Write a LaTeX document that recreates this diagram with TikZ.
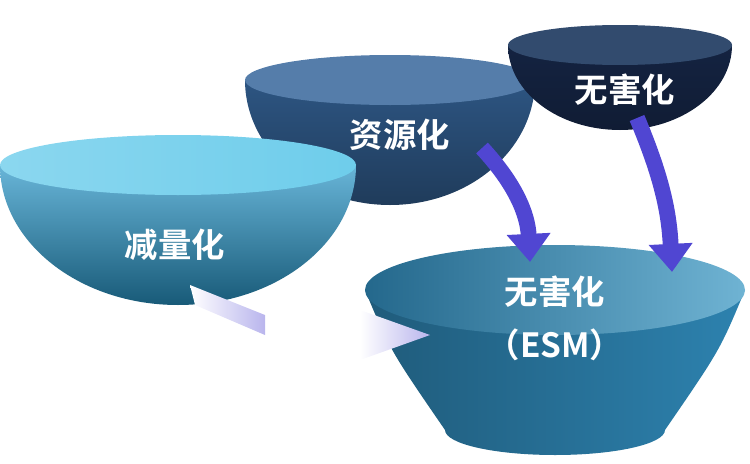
\documentclass[tikz,border=0pt]{standalone}
\usepackage{fontspec}
\newfontfamily\cjk{Noto Sans CJK SC Bold}
\usetikzlibrary{arrows.meta}
\definecolor{bowlA}{RGB}{40,150,200}
\definecolor{bowlAtop}{RGB}{110,205,235}
\definecolor{bowlB}{RGB}{45,85,130}
\definecolor{bowlBtop}{RGB}{85,125,170}
\definecolor{bowlC}{RGB}{20,35,65}
\definecolor{bowlCtop}{RGB}{50,75,110}
\definecolor{esm}{RGB}{45,130,175}
\definecolor{esmtop}{RGB}{75,160,200}
\definecolor{flowcol}{RGB}{80,70,210}
\tikzset{
    label/.style={text=white, font=\cjk\fontsize{19}{22}\selectfont},
    flow/.style={-{Triangle[width=24pt,length=16pt]}, line width=9pt, color=flowcol},
    fade/.style={left color=white, right color=flowcol!40}
}
\begin{document}
\begin{tikzpicture}[x=0.02cm,y=-0.02cm]
    \useasboundingbox (0,0) rectangle (750,463);
    % Bowls
    \shade[top color=bowlB, bottom color=bowlB!70!black] (245,80) arc[start angle=180,end angle=0,x radius=145,y radius=125] -- cycle;
    \fill[bowlBtop] (390,80) ellipse[x radius=145,y radius=25];
    \shade[top color=bowlC, bottom color=bowlC!80!black] (508,45) arc[start angle=180,end angle=0,x radius=112,y radius=85] -- cycle;
    \fill[bowlCtop] (620,45) ellipse[x radius=112,y radius=20];
    \shade[top color=bowlA!70, bottom color=bowlA!60!black] (0,165) arc[start angle=180,end angle=0,x radius=178,y radius=140] -- cycle;
    \shade[left color=bowlAtop!80!white, right color=bowlAtop] (178,165) ellipse[x radius=178,y radius=30];
    % ESM
    \shade[left color=esm!70!black, right color=esm] (365,290) .. controls (390,350) .. (445,430) arc[start angle=180,end angle=0,x radius=110,y radius=25] .. controls (720,350) .. (745,290) -- cycle;
    \shade[left color=esm!80!black, right color=esmtop!80!white] (555,290) ellipse[x radius=190,y radius=45];
    % Labels
    \node[label] (reduce) at (175,245) {减量化};
    \node[label] (resource) at (400,135) {资源化};
    \node[label] (harmless) at (625,90) {无害化};
    \node[label] (esmtext) at (555,292) {无害化};
    \node[label] (esmsub) at (555,345) {（ESM）};
    \coordinate (rstart) at (482,148);
    \coordinate (rend) at (530,262);
    \coordinate (hstart) at (637,118);
    \coordinate (hend) at (672,272);
    % Flows
    \draw[flow] (rstart) to[bend left=20] (rend);
    \draw[flow] (hstart) to[bend left=10] (hend);
    \shade[fade] (190,285) -- (265,315) -- (265,335) -- (195,305) -- cycle;
    \shade[fade] (360,310) -- (430,335) -- (360,360) -- cycle;
\end{tikzpicture}
\end{document}
